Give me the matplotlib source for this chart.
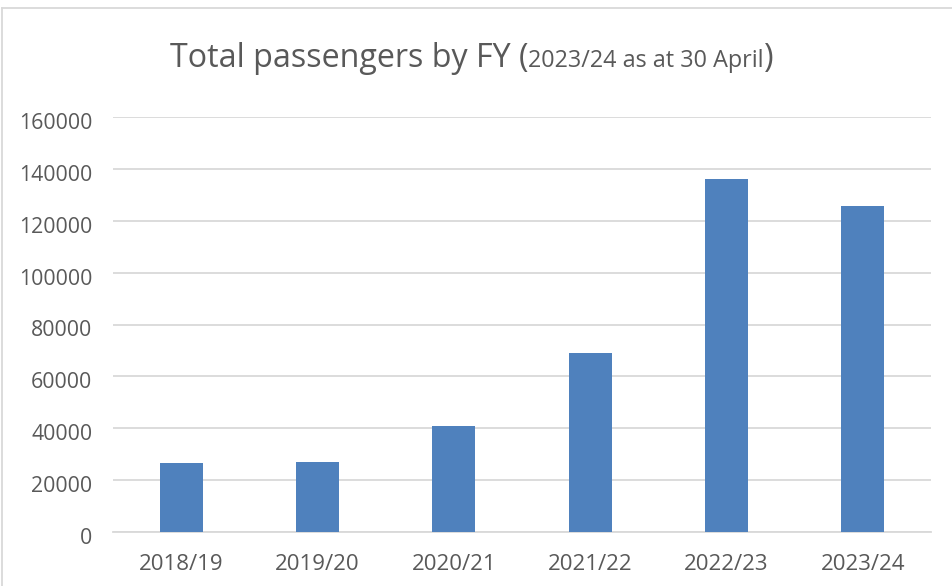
import matplotlib
matplotlib.use("Agg")
import matplotlib.pyplot as plt
from matplotlib.lines import Line2D
from matplotlib.transforms import ScaledTranslation

categories = ["2018/19", "2019/20", "2020/21", "2021/22", "2022/23", "2023/24"]
passengers = [26500, 26800, 41000, 69000, 136000, 125700]
yticks = [0, 20000, 40000, 60000, 80000, 100000, 120000, 140000, 160000]

plt.rcParams['font.family'] = ['Open Sans', 'DejaVu Sans']
TXT = '#595959'
GRID = '#d9d9d9'
BAR = '#4f81bd'

fig = plt.figure(figsize=(9.53, 5.86), dpi=100)
ax = fig.add_axes([113/953, (586-532)/586, (931-113)/953, (532-117)/586])

x = list(range(len(categories)))
ax.bar(x, passengers, width=0.315, color=BAR, zorder=3)
ax.set_xlim(-0.5, len(categories) - 0.5)
ax.set_ylim(0, 160000)
ax.set_yticks(yticks)
ax.set_yticklabels([str(v) for v in yticks])
ax.set_xticks(x)
ax.set_xticklabels(categories)
ax.yaxis.grid(True, color=GRID, linewidth=1.3, zorder=0)
ax.set_axisbelow(True)
for s in ['top', 'right', 'left']:
    ax.spines[s].set_visible(False)
ax.spines['bottom'].set_color(GRID)
ax.spines['bottom'].set_linewidth(1.3)
ax.tick_params(axis='both', length=0, labelcolor=TXT)
ax.tick_params(axis='y', pad=15, labelsize=15.3)
ax.tick_params(axis='x', pad=16, labelsize=16)

shift = ScaledTranslation(0, -4/100, fig.dpi_scale_trans)
for lab in ax.get_yticklabels():
    lab.set_transform(lab.get_transform() + shift)

# chart border (top and left visible)
fig.add_artist(Line2D([2.5/953, 2.5/953], [0, 1 - 7.5/586], color=GRID, lw=1.3, transform=fig.transFigure))
fig.add_artist(Line2D([2.5/953, 1], [1 - 7.5/586, 1 - 7.5/586], color=GRID, lw=1.3, transform=fig.transFigure))

# title with mixed sizes
fig.canvas.draw()
renderer = fig.canvas.get_renderer()
parts = [("Total passengers by FY (", 23.2), ("2023/24 as at 30 April", 16.8), (")", 23.2)]
xpos = 170
ybase = 586 - 67
for txt, sz in parts:
    t = fig.text(xpos/953, ybase/586, txt, fontsize=sz, color=TXT, ha='left', va='baseline')
    bb = t.get_window_extent(renderer=renderer)
    xpos = bb.x1

fig.savefig("out.png", dpi=100, facecolor='white')
